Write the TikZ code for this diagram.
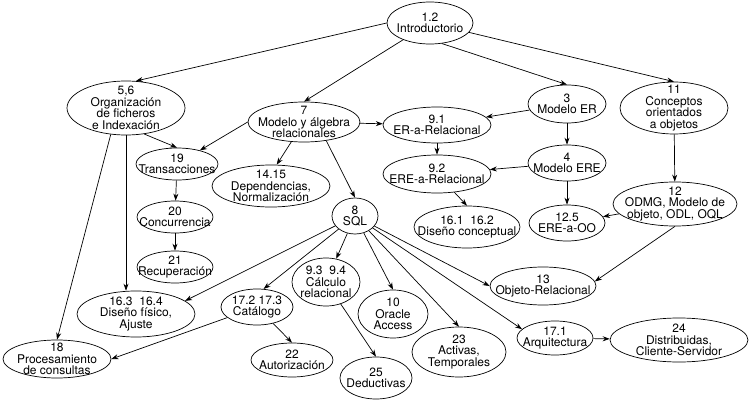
\documentclass[tikz,border=0pt]{standalone}
\usepackage{fontspec}
\setmainfont{TeX Gyre Heros}
\usetikzlibrary{shapes.geometric,arrows.meta}

\begin{document}
\begin{tikzpicture}[x=1pt,y=-1pt,line width=0.7pt,>={Stealth[length=7pt,width=5pt]},
    tema/.style={draw,ellipse,inner sep=-30pt,align=center,font=\fontsize{12}{11.6}\selectfont}]
    \useasboundingbox (0,0) rectangle (753,404);
    \node[tema,minimum width=86pt,minimum height=42pt] (intro) at (430,23) {1.2\\Introductorio};
    \node[tema,minimum width=118pt,minimum height=54pt] (ficheros) at (126,108) {5,6\\Organización\\de ficheros\\e Indexación};
    \node[tema,minimum width=112pt,minimum height=40pt] (relacional) at (304,122) {7\\Modelo y álgebra\\relacionales};
    \node[tema,minimum width=78pt,minimum height=38pt] (modeloer) at (567,104) {3\\Modelo ER};
    \node[tema,minimum width=108pt,minimum height=52pt] (oo) at (674,108) {11\\Conceptos\\orientados\\a objetos};
    \node[tema,minimum width=108pt,minimum height=36pt] (eraRel) at (437,125) {9.1\\ER-a-Relacional};
    \node[tema,minimum width=108pt,minimum height=38pt] (ereaRel) at (437,174) {9.2\\ERE-a-Relacional};
    \node[tema,minimum width=78pt,minimum height=36pt] (modeloere) at (567,163) {4\\Modelo ERE};
    \node[tema,minimum width=82pt,minimum height=32pt] (trans) at (177,164) {19\\Transacciones};
    \node[tema,minimum width=118pt,minimum height=42pt] (depend) at (271,186) {14.15\\Dependencias,\\Normalización};
    \node[tema,minimum width=76pt,minimum height=32pt] (concur) at (175,217) {20\\Concurrencia};
    \node[tema,minimum width=76pt,minimum height=32pt] (recup) at (175,267) {21\\Recuperación};
    \node[tema,minimum width=46pt,minimum height=36pt] (sql) at (355,216) {8\\SQL};
    \node[tema,minimum width=106pt,minimum height=42pt] (disconc) at (467,227) {16.1\ \ 16.2\\Diseño conceptual};
    \node[tema,minimum width=76pt,minimum height=36pt] (ereaoo) at (567,223) {12.5\\ERE-a-OO};
    \node[tema,minimum width=124pt,minimum height=44pt] (odmg) at (675,204) {12\\ODMG, Modelo de\\objeto, ODL, OQL};
    \node[tema,minimum width=118pt,minimum height=46pt] (fisico) at (136,314) {16.3\ \ 16.4\\Diseño físico,\\Ajuste};
    \node[tema,minimum width=72pt,minimum height=36pt] (catalogo) at (257,307) {17.2 17.3\\Catálogo};
    \node[tema,minimum width=68pt,minimum height=48pt] (calculo) at (326,282) {9.3\ \ 9.4\\Cálculo\\relacional};
    \node[tema,minimum width=70pt,minimum height=48pt] (oracle) at (393,314) {10\\Oracle\\Access};
    \node[tema,minimum width=94pt,minimum height=50pt] (activas) at (459,352) {23\\Activas,\\Temporales};
    \node[tema,minimum width=106pt,minimum height=38pt] (objrel) at (543,286) {13\\Objeto-Relacional};
    \node[tema,minimum width=76pt,minimum height=34pt] (arq) at (555,338) {17.1\\Arquitectura};
    \node[tema,minimum width=138pt,minimum height=44pt] (distrib) at (679,340) {24\\Distribuidas,\\Cliente-Servidor};
    \node[tema,minimum width=108pt,minimum height=38pt] (consultas) at (57,359) {18\\Procesamiento\\de consultas};
    \node[tema,minimum width=82pt,minimum height=34pt] (autoriz) at (292,360) {22\\Autorización};
    \node[tema,minimum width=72pt,minimum height=42pt] (deduct) at (376,378) {25\\Deductivas};
    \draw[->] (intro.west) -- (ficheros.70);
    \draw[->] (intro) -- (relacional.north);
    \draw[->] (intro.300) -- (modeloer.north);
    \draw[->] (intro) -- (oo.north);
    \draw[->] (relacional) -- (eraRel);
    \draw[->] (relacional.west) -- (trans);
    \draw[->] (relacional) -- (depend.75);
    \draw[->] (relacional.320) -- (sql.north);
    \draw[->] (ficheros.305) -- (trans.north);
    \draw[->] (ficheros.south) -- (fisico.north -| ficheros.south);
    \draw[->] (ficheros.240) -- (consultas.north);
    \draw[->] (trans) -- (concur);
    \draw[->] (concur) -- (recup);
    \draw[->] (modeloer) -- (eraRel);
    \draw[->] (modeloer) -- (modeloere);
    \draw[->] (eraRel) -- (ereaRel);
    \draw[->] (modeloere) -- (ereaRel);
    \draw[->] (modeloere) -- (ereaoo);
    \draw[->] (ereaRel) -- (disconc.north);
    \draw[->] (oo) -- (odmg);
    \draw[->] (odmg) -- (ereaoo);
    \draw[->] (odmg.south) -- (objrel.5);
    \draw[->] (sql) -- (fisico.15);
    \draw[->] (sql) -- (catalogo.70);
    \draw[->] (sql) -- (calculo);
    \draw[->] (sql) -- (oracle.north);
    \draw[->] (sql) -- (activas.north);
    \draw[->] (sql) -- (objrel.west);
    \draw[->] (sql) -- (arq.165);
    \draw[->] (catalogo) -- (consultas.east);
    \draw[->] (catalogo) -- (autoriz.north);
    \draw[->] (calculo) -- (deduct.north);
    \draw[->] (arq) -- (distrib);
\end{tikzpicture}
\end{document}
